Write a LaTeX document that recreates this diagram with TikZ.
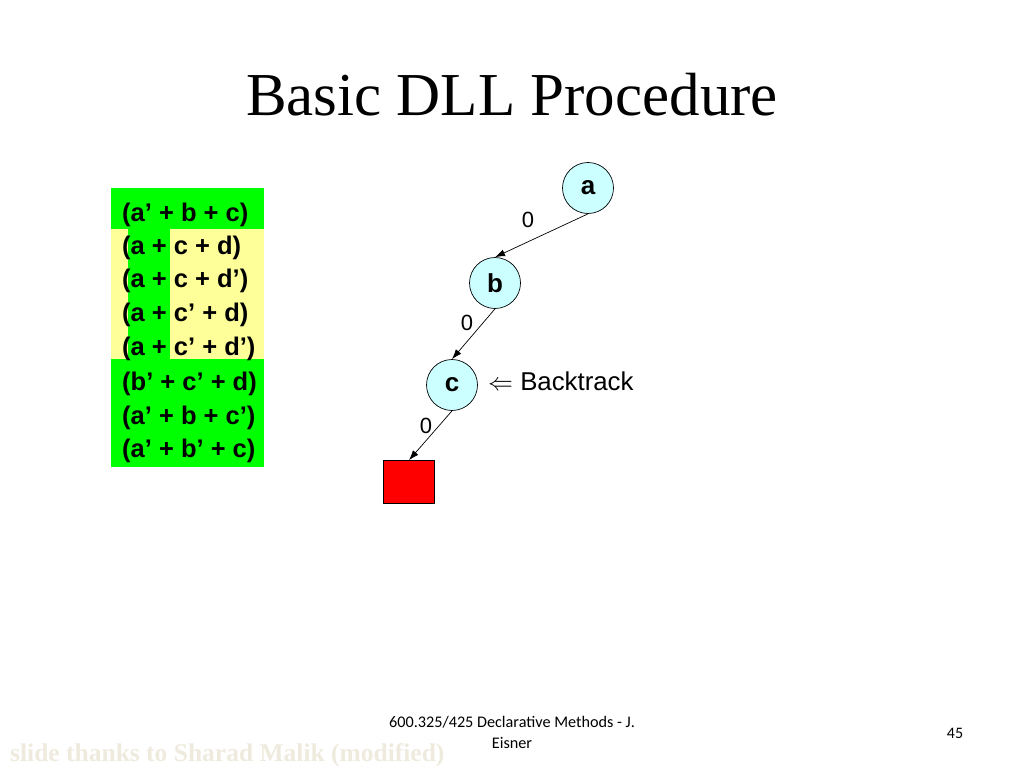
\documentclass[tikz,border=0pt]{standalone}
\usepackage{fontspec}
\setmainfont{Liberation Serif}
\newfontfamily\arialfont{Liberation Sans}
\newfontfamily\footfont{Carlito}
\usetikzlibrary{arrows.meta,positioning}
\definecolor{Unit}{HTML}{00FF00}
\definecolor{Open}{HTML}{FFFF99}
\definecolor{VarFill}{HTML}{CCFFFF}
\definecolor{Conflict}{HTML}{FF0000}
\definecolor{Credit}{HTML}{EEEADD}

\begin{document}
\begin{tikzpicture}[x=1pt,y=-1pt,
          clause/.style={anchor=base west,inner sep=0pt,
            font=\arialfont\bfseries\fontsize{25.5}{25.5}\selectfont},
          decision/.style={circle,draw=black,fill=VarFill,line width=0.7pt,
            minimum size=51pt,inner sep=0pt,font=\arialfont\bfseries\fontsize{26}{26}\selectfont},
          value/.style={inner sep=0pt,font=\arialfont\fontsize{22}{22}\selectfont},
          branch/.style={-{Latex[length=10pt,width=7pt]},draw=black,line width=0.7pt}]
        \useasboundingbox (0,0) rectangle (1024,768);
        % title
        \node[anchor=base,inner sep=0pt,font=\fontsize{61}{61}\selectfont] (title) at (512,115) {Basic DLL Procedure};
        % clause database
        \fill[Unit] (111,188) rectangle (264,229);
        \fill[Open] (111,229) rectangle (264,359);
        \fill[Unit] (128,229) rectangle (170,359);
        \fill[Unit] (111,359) rectangle (264,467);
        \node[clause] (c1) at (122,221) {(a’ + b + c)};
        \node[clause] (c2) at (122,254) {(a + c + d)};
        \node[clause] (c3) at (122,287) {(a + c + d’)};
        \node[clause] (c4) at (122,321) {(a + c’ + d)};
        \node[clause] (c5) at (122,355) {(a + c’ + d’)};
        \node[clause] (c6) at (122,390) {(b’ + c’ + d)};
        \node[clause] (c7) at (122,424) {(a’ + b + c’)};
        \node[clause] (c8) at (122,457) {(a’ + b’ + c)};
        % search tree
        \node[decision] (a) at (588,188) {a};
        \node[decision] (b) at (495,283) {b};
        \node[decision] (c) at (452,385) {c};
        \node[draw=black,fill=Conflict,line width=0.7pt,minimum width=51pt,minimum height=43pt,inner sep=0pt] (conf) at (409,482) {};
        \draw[branch] (a.south)--(b.north);
        \draw[branch] (b.south)--(c.north);
        \draw[branch] (c.south)--(conf.north);
        \node[value] (v1) at (528,220) {0};
        \node[value] (v2) at (467,323) {0};
        \node[value] (v3) at (426,426) {0};
        \node[anchor=base west,inner sep=0pt,font=\arialfont\fontsize{25.8}{25.8}\selectfont] (back) at (488,390) {$\Leftarrow$ Backtrack};
        % footer
        \node[align=center,inner sep=0pt,font=\footfont\fontsize{16.2}{21}\selectfont] (foot) at (512,732) {600.325/425 Declarative Methods - J.\\Eisner};
        \node[inner sep=0pt,font=\footfont\fontsize{16}{16}\selectfont] (page) at (955,733) {45};
        \node[anchor=base west,inner sep=0pt,text=Credit,font=\bfseries\fontsize{25.5}{25.5}\selectfont] (credit) at (10,761) {slide thanks to Sharad Malik (modified)};
      \end{tikzpicture}
\end{document}
